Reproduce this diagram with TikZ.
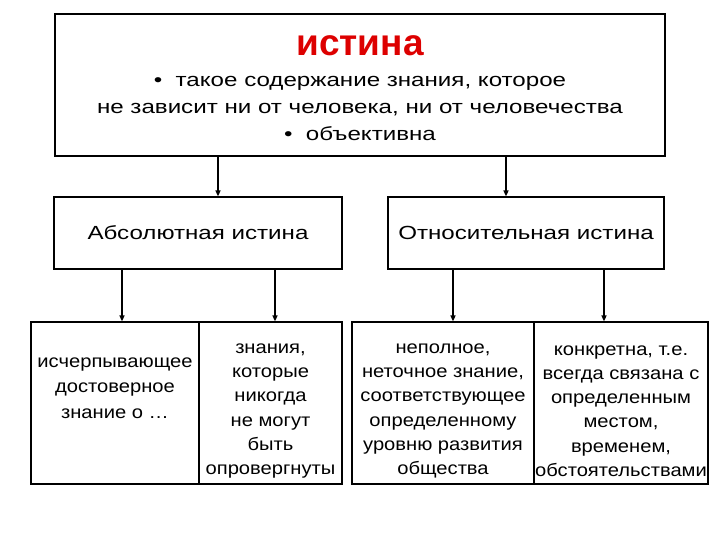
\documentclass[tikz,border=0pt]{standalone}
\usepackage{fontspec}
\setmainfont{Liberation Sans}
\newfontfamily\widefont[FakeStretch=1.27]{Liberation Sans}
\newfontfamily\cellfont[FakeStretch=1.12]{Liberation Sans}
\usetikzlibrary{arrows.meta,positioning}
\definecolor{titlec}{HTML}{DD0000}
\tikzset{
  ar/.style={-{Triangle[length=6pt,width=5pt]},line width=1.4pt},
  frame/.style={draw,line width=1.2pt,inner sep=0pt},
  txt/.style={align=center,inner sep=0pt},
  head/.style={frame,txt,font=\widefont\fontsize{19}{27}\selectfont},
  celltxt/.style={txt,font=\cellfont\fontsize{18}{24.2}\selectfont}
}
\begin{document}
\begin{tikzpicture}[x=1pt,y=-1pt]
\useasboundingbox (0,0) rectangle (720,540);
\node[frame,minimum width=610pt,minimum height=142pt] (ist) at (360,85) {};
\node[head,draw=none] (istT) at ([yshift=-3pt]ist.center)
  {{\rmfamily\fontsize{37}{37}\selectfont\bfseries\color{titlec}истина}\\[4pt]
   •\ \ такое содержание знания, которое\\
   не зависит ни от человека, ни от человечества\\
   •\ \ объективна};
\node[head,minimum width=288pt,minimum height=72pt] (abs) at (198,233) {Абсолютная истина};
\node[head,minimum width=276pt,minimum height=72pt] (rel) at (526,233) {Относительная истина};
\node[frame,minimum width=168pt,minimum height=162pt] (abs1) at (115,403) {};
\node[frame,minimum width=143pt,minimum height=162pt] (abs2) at (270.5,403) {};
\node[frame,minimum width=182pt,minimum height=162pt] (rel1) at (443,403) {};
\node[frame,minimum width=174pt,minimum height=162pt] (rel2) at (621,403) {};
\node[celltxt,font=\cellfont\fontsize{18}{25.3}\selectfont] (abs1T) at ([yshift=15pt]abs1.center)
  {исчерпывающее\\ достоверное\\ знание о …};
\node[celltxt] (abs2T) at ([yshift=-8pt]abs2.center)
  {знания,\\ которые\\ никогда\\ не могут\\ быть\\ опровергнуты};
\node[celltxt] (rel1T) at ([yshift=-8pt]rel1.center)
  {неполное,\\ неточное знание,\\ соответствующее\\ определенному\\ уровню развития\\ общества};
\node[celltxt] (rel2T) at ([yshift=-8pt]rel2.center)
  {конкретна, т.е.\\ всегда связана с\\ определенным\\ местом,\\ временем,\\ обстоятельствами};
\draw[ar] ([xshift=20pt]abs.north |- ist.south) -- ([xshift=20pt]abs.north);
\draw[ar] ([xshift=-20pt]rel.north |- ist.south) -- ([xshift=-20pt]rel.north);
\draw[ar] ([xshift=7pt]abs1.north |- abs.south) -- ([xshift=7pt]abs1.north);
\draw[ar] ([xshift=4.5pt]abs2.north |- abs.south) -- ([xshift=4.5pt]abs2.north);
\draw[ar] ([xshift=10pt]rel1.north |- rel.south) -- ([xshift=10pt]rel1.north);
\draw[ar] ([xshift=-17pt]rel2.north |- rel.south) -- ([xshift=-17pt]rel2.north);
\end{tikzpicture}
\end{document}
